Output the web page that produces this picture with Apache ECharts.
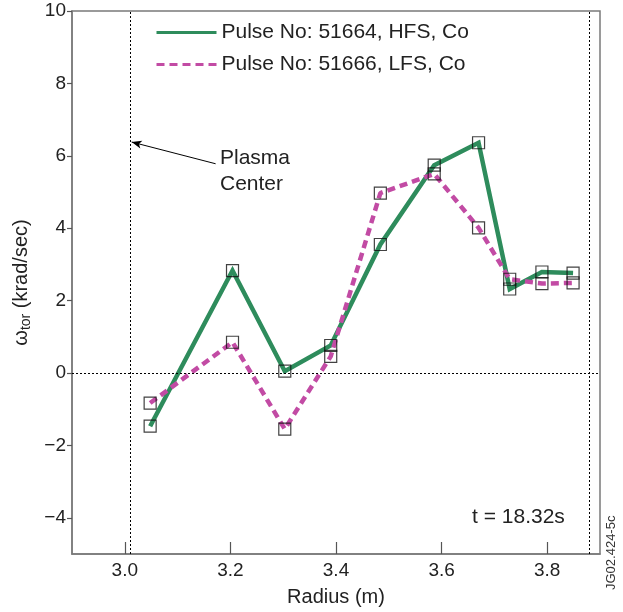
<!DOCTYPE html>
<html>
<head>
<meta charset="utf-8">
<script src="https://cdn.jsdelivr.net/npm/echarts@6/dist/echarts.min.js"></script>
<style>
  html, body { margin: 0; padding: 0; background: #fff; }
  #chart { width: 623px; height: 612px; }
</style>
</head>
<body>
<div id="chart"></div>
<script>
// Toroidal rotation profiles vs. major radius
const radius = [3.048, 3.204, 3.303, 3.390, 3.484, 3.586, 3.670, 3.729, 3.790, 3.849];
const omegaHFS = [-1.47, 2.83, 0.05, 0.76, 3.55, 5.74, 6.36, 2.32, 2.79, 2.76];
const omegaLFS = [-0.83, 0.85, -1.55, 0.46, 4.97, 5.50, 4.01, 2.59, 2.47, 2.49];
const seriesNames = ['Pulse No: 51664, HFS, Co', 'Pulse No: 51666, LFS, Co'];
const xTicks = [3.0, 3.2, 3.4, 3.6, 3.8];
const yTicks = [-4, -2, 0, 2, 4, 6, 8, 10];
const plasmaCenter = 3.01;
const outerEdge = 3.875;
const arrowFrom = [3.172, 5.78];
const arrowTo = [3.013, 6.38];

const GREEN = '#2e8c5c';
const MAGENTA = '#c24ba4';
const FONT = 'Liberation Sans, Arial, Helvetica, sans-serif';

const pairs = (xs, ys) => xs.map((x, i) => [x, ys[i]]);
const minus = v => String(v).replace('-', '\u2212');

const chart = echarts.init(document.getElementById('chart'));
chart.setOption({
  animation: false,
  backgroundColor: '#fff',
  textStyle: { fontFamily: FONT, color: '#222' },
  grid: {
    left: 72, right: 23, top: 11, bottom: 57,
    show: true, borderColor: '#7a7a7a', borderWidth: 1.5
  },
  legend: {
    orient: 'vertical', left: 155, top: 22, padding: 0,
    itemWidth: 60, itemHeight: 14, itemGap: 11,
    data: seriesNames,
    itemStyle: { opacity: 0, borderWidth: 0 },
    lineStyle: { width: 3 },
    textStyle: { fontSize: 21, color: '#222', fontFamily: FONT }
  },
  xAxis: {
    type: 'value', min: 2.9, max: 3.9,
    name: 'Radius (m)', nameLocation: 'middle', nameGap: 33,
    nameTextStyle: { fontSize: 20, color: '#222' },
    axisLine: { onZero: false, lineStyle: { color: '#7a7a7a', width: 1.5 } },
    axisTick: { inside: true, length: 12, customValues: xTicks, lineStyle: { color: '#555', width: 1.2 } },
    axisLabel: { customValues: xTicks, fontSize: 19, color: '#222', margin: 7,
                 formatter: v => v.toFixed(1) },
    splitLine: { show: false }
  },
  yAxis: {
    type: 'value', min: -5, max: 10,
    name: '{w|ω}{s|tor}{n| (krad/sec)}', nameLocation: 'middle', nameGap: 33, nameRotate: 90,
    nameTextStyle: {
      rich: {
        w: { fontSize: 20, color: '#222', fontFamily: FONT },
        s: { fontSize: 14, color: '#222', fontFamily: FONT, padding: [10, 0, 0, 0] },
        n: { fontSize: 20, color: '#222', fontFamily: FONT }
      }
    },
    axisLine: { onZero: false, lineStyle: { color: '#7a7a7a', width: 1.5 } },
    axisTick: { inside: false, length: 5, customValues: yTicks, lineStyle: { color: '#555', width: 1.2 } },
    axisLabel: { customValues: yTicks, fontSize: 19, color: '#222', margin: 6, formatter: v => minus(v) },
    splitLine: { show: false }
  },
  series: [
    {
      // reference lines: zero level, plasma center, outer edge, and the arrow annotation
      type: 'line', data: [], silent: true,
      markLine: {
        silent: true, symbol: 'none', animation: false,
        label: { show: false },
        lineStyle: { color: '#000', type: [2, 2], width: 1 },
        data: [
          { yAxis: 0 },
          { xAxis: plasmaCenter },
          { xAxis: outerEdge },
          [
            { coord: arrowFrom, symbol: 'none', lineStyle: { type: 'solid', width: 1 } },
            { coord: arrowTo, symbol: 'arrow', symbolSize: [6, 10] }
          ]
        ]
      }
    },
    {
      name: seriesNames[0], type: 'line', data: pairs(radius, omegaHFS),
      symbol: 'none', showSymbol: false, z: 3,
      lineStyle: { color: GREEN, width: 4.5, cap: 'butt', join: 'miter' },
      itemStyle: { color: GREEN }
    },
    {
      name: seriesNames[1], type: 'line', data: pairs(radius, omegaLFS),
      symbol: 'none', showSymbol: false, z: 4,
      lineStyle: { color: MAGENTA, width: 4.5, type: [8, 5], cap: 'butt' },
      itemStyle: { color: MAGENTA }
    },
    {
      type: 'scatter', data: pairs(radius, omegaHFS), symbol: 'rect', symbolSize: 12, z: 5,
      itemStyle: { color: 'rgba(0,0,0,0)', borderColor: '#111', borderWidth: 1.2 }, silent: true
    },
    {
      type: 'scatter', data: pairs(radius, omegaLFS), symbol: 'rect', symbolSize: 12, z: 5,
      itemStyle: { color: 'rgba(0,0,0,0)', borderColor: '#111', borderWidth: 1.2 }, silent: true
    }
  ],
  graphic: [
    {
      type: 'text', left: 220, top: 145,
      style: { text: 'Plasma\nCenter', font: '21px ' + FONT, fill: '#222', lineHeight: 26 }
    },
    {
      type: 'text', left: 472, top: 507,
      style: { text: 't = 18.32s', font: '21px ' + FONT, fill: '#222' }
    },
    {
      type: 'text', x: 605, y: 590, rotation: Math.PI / 2,
      style: { text: 'JG02.424-5c', font: '13px ' + FONT, fill: '#333', textAlign: 'left', textVerticalAlign: 'top' }
    }
  ]
});
</script>
</body>
</html>
